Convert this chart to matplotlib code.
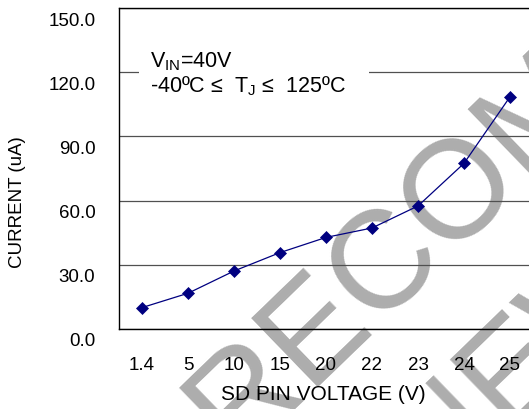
import matplotlib
matplotlib.use('Agg')
import matplotlib.pyplot as plt
import matplotlib.transforms as mtransforms
import numpy as np

# datos
sd_voltage = ['1.4', '5', '10', '15', '20', '22', '23', '24', '25']
current_ua = [10.0, 16.7, 27.1, 35.7, 42.8, 47.2, 57.5, 77.4, 108.5]
y_ticks = [0, 30, 60, 90, 120, 150]

plt.rcParams['font.family'] = ['Liberation Sans', 'DejaVu Sans']
plt.rcParams['mathtext.fontset'] = 'custom'
plt.rcParams['mathtext.rm'] = 'Liberation Sans'
plt.rcParams['mathtext.it'] = 'Liberation Sans:italic'

W, H = 529, 409
fig = plt.figure(figsize=(W / 100, H / 100), dpi=100)
ax = fig.add_axes([119 / W, 1 - 329 / H, (533 - 119) / W, (329 - 8) / H])
ax.set_facecolor('none')

# marca de agua diagonal (detras del grafico)
wm = dict(rotation=44, rotation_mode='anchor', ha='left', va='baseline',
          fontsize=100, color='#adadad', zorder=-1)
fig.text(0.9 / W, 1 - 693.6 / H, 'NOT RECOMMENDED', **wm)
fig.text(198.7 / W, 1 - 736.1 / H, 'FOR NEW DESIGN', **wm)

# serie
ax.plot(sd_voltage, current_ua, color='#000080', lw=0.9, marker='D',
        ms=6, mfc='#000080', mec='#000080', mew=0.5, zorder=4)

ax.set_xlim(-0.5, len(sd_voltage) - 0.5)
ax.set_ylim(0, 150)
ax.set_yticks(y_ticks)
ax.set_yticklabels([f'{v:.1f}' for v in y_ticks])

ax.set_axisbelow(True)
ax.yaxis.grid(True, color='#505050', lw=0.9)
ax.xaxis.grid(False)
for s in ['left', 'top', 'bottom']:
    ax.spines[s].set_color('black')
    ax.spines[s].set_linewidth(1.0)
ax.spines['right'].set_visible(False)

ax.tick_params(axis='both', length=0, labelsize=13.5, colors='black')
ax.tick_params(axis='y', pad=17)
ax.tick_params(axis='x', pad=20)

offset = mtransforms.ScaledTranslation(0, -0.11, fig.dpi_scale_trans)
for lbl in ax.get_yticklabels():
    lbl.set_transform(lbl.get_transform() + offset)

ax.set_xlabel('SD PIN VOLTAGE (V)', fontsize=15)
ax.xaxis.set_label_coords(0.493, -0.2025)
ax.xaxis.label.set_va('center')
ax.set_ylabel('CURRENT (uA)', fontsize=13.5)
ax.yaxis.set_label_coords(-0.244, 0.396)
ax.yaxis.label.set_va('center')

ax.text(0.075, 0.869,
        '$\\mathrm{V}_{\\mathrm{IN}}$=40V\n-40ºC ≤  $\\mathrm{T}_{\\mathrm{J}}$ ≤  125ºC   ',
        transform=ax.transAxes, ha='left', va='top', fontsize=15.5,
        linespacing=1.1, zorder=5,
        bbox=dict(facecolor='white', edgecolor='none', boxstyle='square,pad=0.5'))

fig.savefig('out.png', dpi=100)
